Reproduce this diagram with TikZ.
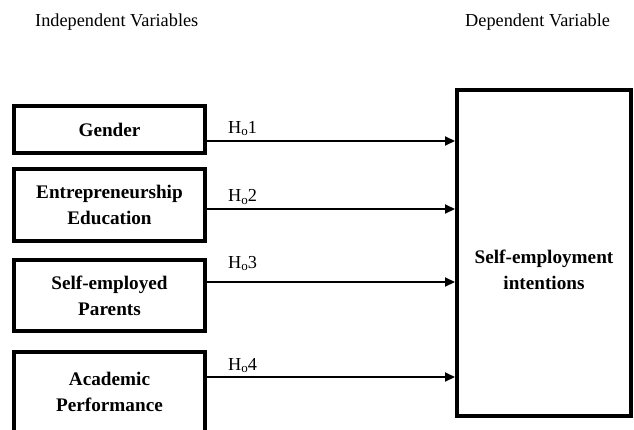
\documentclass[tikz,border=0pt]{standalone}
\usepackage{fontspec}
\setmainfont{Liberation Serif}
\usetikzlibrary{arrows.meta}
\newcommand{\hsub}[1]{H\raisebox{-2.5pt}{\fontsize{13}{13}\selectfont o}#1}
\begin{document}
\begin{tikzpicture}[x=1pt,y=-1pt,
	every node/.style={font=\fontsize{18.3}{26}\selectfont},
	varbox/.style={draw,line width=4pt,minimum width=191pt,inner sep=0pt,align=center,font=\fontsize{19.2}{26}\selectfont\bfseries},
	hyp/.style={anchor=base west,inner sep=0pt},
	arr/.style={line width=2pt,-{Triangle[length=10pt,width=9pt]}}]
	\useasboundingbox (0,0) rectangle (634,429);
	\clip (0,0) rectangle (634,429);
	
	\node[anchor=base west,inner sep=0pt] (indep) at (35,26) {Independent Variables};
	\node[anchor=base west,inner sep=0pt] (dep) at (465,26) {Dependent Variable};
	
	\node[varbox,minimum height=47pt] (gender) at (109.5,129.5) {Gender};
	\node[varbox,minimum height=72pt] (edu) at (109.5,205) {Entrepreneurship\\Education};
	\node[varbox,minimum height=71pt] (parents) at (109.5,295.5) {Self-employed\\Parents};
	\node[varbox,minimum height=80pt] (acad) at (109.5,392) {Academic\\Performance};
	
	\node[draw,line width=4pt,minimum width=174pt,minimum height=326pt,inner sep=0pt] (sei) at (544,253) {};
	\node[align=center,font=\fontsize{19.2}{26}\selectfont\bfseries] (seitext) at (544,270) {Self-employment\\intentions};
	
	\draw[arr] (gender.east |- 0,141) -- (sei.west |- 0,141);
	\draw[arr] (edu.east |- 0,209) -- (sei.west |- 0,209);
	\draw[arr] (parents.east |- 0,282) -- (sei.west |- 0,282);
	\draw[arr] (acad.east |- 0,377) -- (sei.west |- 0,377);
	
	\node[hyp] (h1) at (228,133) {\hsub{1}};
	\node[hyp] (h2) at (228,201.5) {\hsub{2}};
	\node[hyp] (h3) at (228,268) {\hsub{3}};
	\node[hyp] (h4) at (228,370) {\hsub{4}};
\end{tikzpicture}
\end{document}
